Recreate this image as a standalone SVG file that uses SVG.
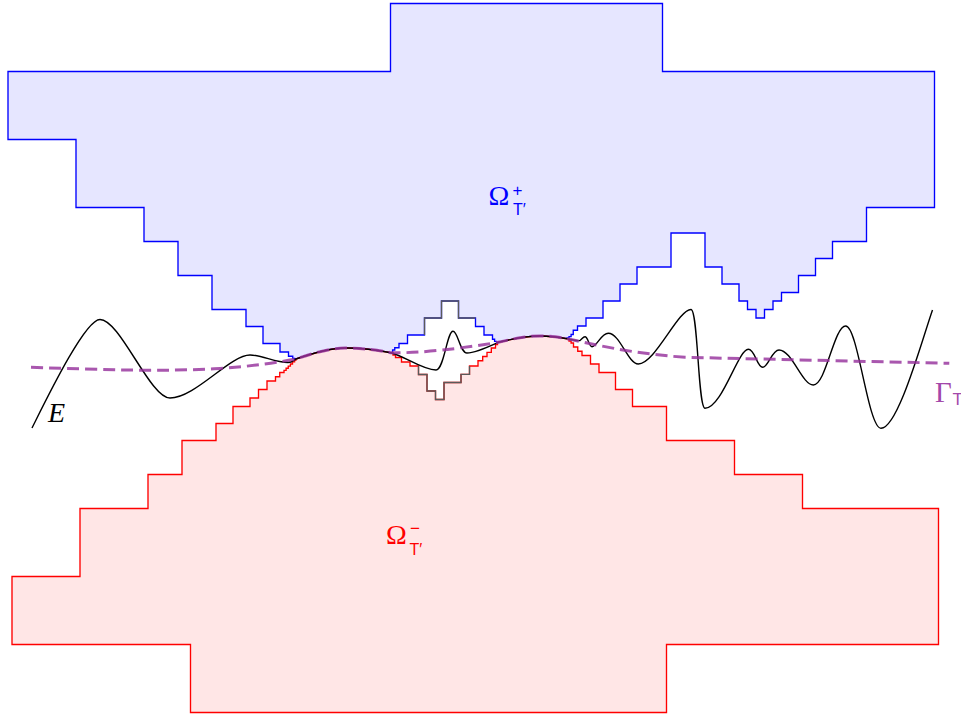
<svg xmlns="http://www.w3.org/2000/svg" width="961" height="718" viewBox="0 0 961 718">
<style>
.reg{stroke-width:1.35;stroke-linejoin:miter}
.plus{fill:#e6e6ff;stroke:#0000ff}
.minus{fill:#ffe6e6;stroke:#ff0000}
.gray{fill:none;stroke:#5a5a5a;stroke-width:1.35}
.curve{fill:none;stroke:#000;stroke-width:1.4}
.gam{fill:none;stroke:rgb(150,50,156);stroke-opacity:0.82;stroke-width:3;stroke-dasharray:12 6}
.serif{font-family:"Liberation Serif","DejaVu Serif",serif}
.sans{font-family:"Liberation Sans","DejaVu Sans",sans-serif}
</style>
<rect width="961" height="718" fill="#fff"/>
<g id="omega-plus">
<path class="reg plus" d="M 296 359 C 312 353.5, 330 348, 345 348 C 362 348, 378 350, 390.5 352.7 L 392.6 352.7 L 392.6 350 L 394.75 350 L 394.75 347.75 L 399 347.75 L 399 343.5 L 407.5 343.5 L 407.5 335 L 424.5 335 L 424.5 318 L 441.5 318 L 441.5 301 L 458.5 301 L 458.5 318 L 475.5 318 L 475.5 326.5 L 484 326.5 L 484 335 L 492.5 335 L 492.5 339.25 L 494.6 339.25 L 494.6 341.4 L 496.75 341.4 L 496.75 342.3 L 498.3 342.3 C 512 339, 525 336, 540 336 C 552 336, 560 337.5, 567 338.8 L 567 337.8 L 569 337.8 L 569 336.6 L 571.1 336.6 L 571.1 334.5 L 573.25 334.5 L 573.25 330.25 L 577.5 330.25 L 577.5 326 L 586 326 L 586 318 L 603 318 L 603 301 L 620 301 L 620 284 L 637 284 L 637 267 L 671 267 L 671 233 L 705 233 L 705 267 L 722 267 L 722 284 L 739 284 L 739 301 L 747.5 301 L 747.5 309.5 L 756 309.5 L 756 318 L 764.5 318 L 764.5 309.5 L 773 309.5 L 773 301 L 781.5 301 L 781.5 292.5 L 798.5 292.5 L 798.5 275.5 L 815.5 275.5 L 815.5 258.5 L 832.5 258.5 L 832.5 241.5 L 866.5 241.5 L 866.5 207.5 L 934.5 207.5 L 934.5 71.5 L 662.5 71.5 L 662.5 3.5 L 390.5 3.5 L 390.5 71.5 L 8 71.5 L 8 139.5 L 76 139.5 L 76 207.5 L 144 207.5 L 144 241.5 L 178 241.5 L 178 275.5 L 212 275.5 L 212 309.5 L 246 309.5 L 246 326.5 L 263 326.5 L 263 343.5 L 280 343.5 L 280 352 L 288.5 352 L 288.5 356.25 L 292.75 356.25 L 292.75 358.4 L 294.9 358.4 Z"/>
</g>
<g id="omega-minus">
<path class="reg minus" d="M 296 359 C 312 353.5, 330 348, 345 348 C 362 348, 378 350, 390.5 352.7 L 393 352.7 L 393 355 L 395.5 355 L 395.5 357.5 L 401.5 357.5 L 401.5 362 L 410 362 L 410 366 L 418.5 366 L 418.5 374.5 L 427 374.5 L 427 391 L 435.5 391 L 435.5 399.5 L 444 399.5 L 444 382.5 L 461 382.5 L 461 374.3 L 469.5 374.3 L 469.5 366 L 478 366 L 478 360.7 L 482.7 360.7 L 482.7 356.5 L 487 356.5 L 487 352.3 L 491.3 352.3 L 491.3 348 L 495.5 348 L 495.5 344.5 L 497.5 344.5 L 497.5 342.3 L 498.3 342.3 C 512 339, 525 336, 540 336 C 552 336, 560 337.5, 567 338.8 L 569 338.8 L 569 341 L 571.1 341 L 571.1 343 L 573.5 343 L 573.5 347 L 577.75 347 L 577.75 351.25 L 582 351.25 L 582 355.5 L 590.5 355.5 L 590.5 364 L 599 364 L 599 372.5 L 615.5 372.5 L 615.5 389.5 L 632.5 389.5 L 632.5 406.5 L 666.5 406.5 L 666.5 440.5 L 734.5 440.5 L 734.5 474.5 L 802.5 474.5 L 802.5 508.5 L 938.5 508.5 L 938.5 644.5 L 666.5 644.5 L 666.5 712.5 L 190.5 712.5 L 190.5 644.5 L 12 644.5 L 12 576.5 L 80 576.5 L 80 508.5 L 148 508.5 L 148 474.5 L 182 474.5 L 182 440.5 L 216 440.5 L 216 423.5 L 233 423.5 L 233 406.5 L 250 406.5 L 250 398 L 258.5 398 L 258.5 389.5 L 267 389.5 L 267 381 L 275.5 381 L 275.5 376.75 L 279.75 376.75 L 279.75 372.5 L 284 372.5 L 284 370.4 L 286.1 370.4 L 286.1 368.25 L 288.25 368.25 L 288.25 366.1 L 290.4 366.1 L 290.4 364 L 292.5 364 L 292.5 361.9 L 294.6 361.9 L 294.6 360 L 296 360 Z"/>
</g>
<g id="hole">
<path class="gray" d="M 424.5 335 L 424.5 318 L 441.5 318 L 441.5 301 L 458.5 301 L 458.5 318 L 475.5 318"/>
<path class="gray" d="M 418.5 366 L 418.5 374.5 L 427 374.5 L 427 391 L 435.5 391 L 435.5 399.5 L 444 399.5 L 444 382.5 L 461 382.5 L 461 374.3 L 469.5 374.3 L 469.5 366"/>
</g>
<g id="curve-E">
<path class="curve" d="M 32 428 C 47 398, 85 319.5, 100 319.5 C 120 319.5, 150 398, 170 398 C 195 398, 230 355, 250 355 C 262 355, 275 362.5, 288 362.5 C 292 362.5, 294 360, 296 359 C 312 353.5, 330 348, 345 348 C 362 348, 378 350, 390.5 352.7 C 405 356, 422 370, 436 370 C 444 370, 447 331.3, 453 331.3 C 458 331.3, 460 353, 467 353 C 475 353, 488 347, 498.3 342.3 C 512 339, 525 336, 540 336 C 552 336, 560 337.5, 567 338.8 C 572 340, 577 341, 580 340.5 C 582 339, 583 336.7, 585 336.7 C 588 336.7, 589 346.7, 592 346.7 C 597 346.7, 601 333.3, 608.3 333.3 C 620 333.3, 628 364, 638.3 364 C 655 364, 678 309.5, 691 309.5 C 698 309.5, 698 408.3, 705 408.3 C 722 408.3, 738 349.3, 748.3 349.3 C 755 349.3, 757 367.3, 762.7 367.3 C 768 367.3, 772 350, 779 350 C 792 350, 802 385, 813.3 385 C 826 385, 834 326, 845.7 326 C 858 326, 868 428.3, 881 428.3 C 898 428.3, 922 340, 932.5 310"/>
</g>
<g id="gamma">
<path class="gam" d="M 31 367.3 C 100 369.5, 160 372, 220 368.5 C 255 366, 280 362, 296 359 C 312 353.5, 330 348, 345 348 C 362 348, 378 350, 390.5 352.7 C 420 353.5, 460 348.5, 498.3 342.3 C 512 339, 525 336, 540 336 C 552 336, 560 337.5, 567 338.8 C 590 343, 625 353, 685 357.3 L 949.3 363.3"/>
</g>
<g id="labels">
<g id="label-omega-plus" fill="#0000ff">
<text class="serif" x="488.5" y="205" font-size="28">Ω</text>
<text class="sans" x="512.5" y="195.5" font-size="17">+</text>
<text class="sans" x="513" y="215" font-size="16">T′</text>
</g>
<g id="label-omega-minus" fill="#ff0000">
<text class="serif" x="386" y="544.3" font-size="28">Ω</text>
<text class="sans" x="410" y="533.5" font-size="17">−</text>
<text class="sans" x="409.5" y="555" font-size="16">T′</text>
</g>
<g id="label-E">
<text class="serif" x="48" y="421.7" font-size="28" font-style="italic">E</text>
</g>
<g id="label-gamma" fill="rgb(163,72,170)">
<text class="serif" x="935" y="401.7" font-size="29">Γ</text>
<text class="sans" x="952.5" y="404.5" font-size="17">T</text>
</g>
</g>
</svg>
